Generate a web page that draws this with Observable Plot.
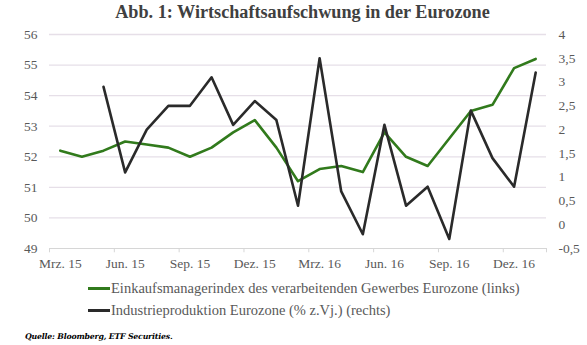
<!DOCTYPE html>
<html>
<head>
<meta charset="utf-8">
<script src="https://cdn.jsdelivr.net/npm/d3@7"></script>
<script src="https://cdn.jsdelivr.net/npm/@observablehq/plot@0.6"></script>
<style>
  body { margin: 0; background: #fff; width: 587px; height: 345px; overflow: hidden; position: relative; font-family: "Liberation Serif", "DejaVu Serif", serif; }
  #title { position: absolute; left: 18px; top: 2px; width: 569px; text-align: center; font-weight: bold; font-size: 18.2px; color: #404040; }
  #chart { position: absolute; left: 0; top: 24px; }
  .leg { position: absolute; left: 88px; font-size: 14.5px; color: #595959; display: flex; align-items: center; white-space: nowrap; }
  .leg span.sw { display: inline-block; width: 22px; height: 3px; margin-right: 1px; }
  #cap { position: absolute; left: 25px; top: 332px; font-size: 7.8px; font-style: italic; font-weight: bold; color: #000; font-family: "DejaVu Serif", serif; letter-spacing: -0.2px; }
</style>
</head>
<body>
<div id="title">Abb. 1: Wirtschaftsaufschwung in der Eurozone</div>
<div id="chart"></div>
<div class="leg" style="top:280px"><span class="sw" style="background:#317a1c"></span>Einkaufsmanagerindex des verarbeitenden Gewerbes Eurozone (links)</div>
<div class="leg" style="top:302px"><span class="sw" style="background:#2a2a2a"></span>Industrieproduktion Eurozone (% z.Vj.) (rechts)</div>
<div id="cap">Quelle: Bloomberg, ETF Securities.</div>
<script>
const months = ["Mrz. 15","Apr. 15","Mai 15","Jun. 15","Jul. 15","Aug. 15","Sep. 15","Okt. 15","Nov. 15","Dez. 15",
  "Jan. 16","Feb. 16","Mrz. 16","Apr. 16","Mai 16","Jun. 16","Jul. 16","Aug. 16","Sep. 16","Okt. 16","Nov. 16","Dez. 16","Jan. 17"];
const pmi = [52.2,52.0,52.2,52.5,52.4,52.3,52.0,52.3,52.8,53.2,52.3,51.2,51.6,51.7,51.5,52.8,52.0,51.7,52.6,53.5,53.7,54.9,55.2];
const ip = [null,null,2.9,1.1,2.0,2.5,2.5,3.1,2.1,2.6,2.2,0.4,3.5,0.7,-0.2,2.1,0.4,0.8,-0.3,2.4,1.4,0.8,3.2];
const leftTicks = [49,50,51,52,53,54,55,56];
const rightTicks = [-0.5,0,0.5,1,1.5,2,2.5,3,3.5,4];
const xTickLabels = ["Mrz. 15","Jun. 15","Sep. 15","Dez. 15","Mrz. 16","Jun. 16","Sep. 16","Dez. 16"];

// map right-axis values into the left-axis domain (49..56 <-> -0.5..4)
const toLeft = v => 49 + (v + 0.5) * 7 / 4.5;
const toRight = y => (y - 49) * 4.5 / 7 - 0.5;

const pmiData = months.map((m, i) => ({i, v: pmi[i]}));
const ipData = months.map((m, i) => ({i, v: ip[i]})).filter(d => d.v !== null);
const labelPos = xTickLabels.map(l => months.indexOf(l));
const tickEdges = labelPos.map(i => i - 0.5).concat([22.5]);
const fmt = v => String(v).replace(".", ",");

const chart = Plot.plot({
  width: 587,
  height: 252,
  marginTop: 10,
  marginBottom: 28,
  marginLeft: 49,
  marginRight: 41,
  style: {fontFamily: "Liberation Serif, DejaVu Serif, serif", fontSize: "13.5px", color: "#595959", background: "transparent", overflow: "visible"},
  x: {type: "linear", domain: [-0.5, 22.5], axis: null, label: null},
  y: {type: "linear", domain: [49, 56], axis: null, label: null},
  marks: [
    Plot.ruleY(leftTicks.slice(1), {stroke: "#e6dfe8", strokeWidth: 1.3}),
    Plot.ruleY([49], {stroke: "#d6d6d6", strokeWidth: 1}),
    Plot.ruleX(tickEdges, {x: d => d, y1: 49, y2: 48.86, stroke: "#d6d6d6", strokeWidth: 1}),
    Plot.axisY({ticks: leftTicks, tickFormat: d => String(d), tickSize: 0, tickPadding: 12, anchor: "left", label: null, fill: "#595959", fontSize: "13.5px"}),
    Plot.axisY({ticks: rightTicks.map(toLeft), tickFormat: y => fmt(Math.round(toRight(y) * 10) / 10), tickSize: 0, tickPadding: 12, anchor: "right", label: null, textAnchor: "start", fill: "#595959", fontSize: "13.5px"}),
    Plot.axisX({ticks: labelPos, tickFormat: i => months[i], tickSize: 0, tickPadding: 10, anchor: "bottom", label: null, fill: "#595959", fontSize: "13.5px"}),
    Plot.line(pmiData, {x: "i", y: "v", stroke: "#317a1c", strokeWidth: 2.6}),
    Plot.line(ipData, {x: "i", y: d => toLeft(d.v), stroke: "#2a2a2a", strokeWidth: 2.6})
  ]
});
document.getElementById("chart").appendChild(chart);
</script>
</body>
</html>
